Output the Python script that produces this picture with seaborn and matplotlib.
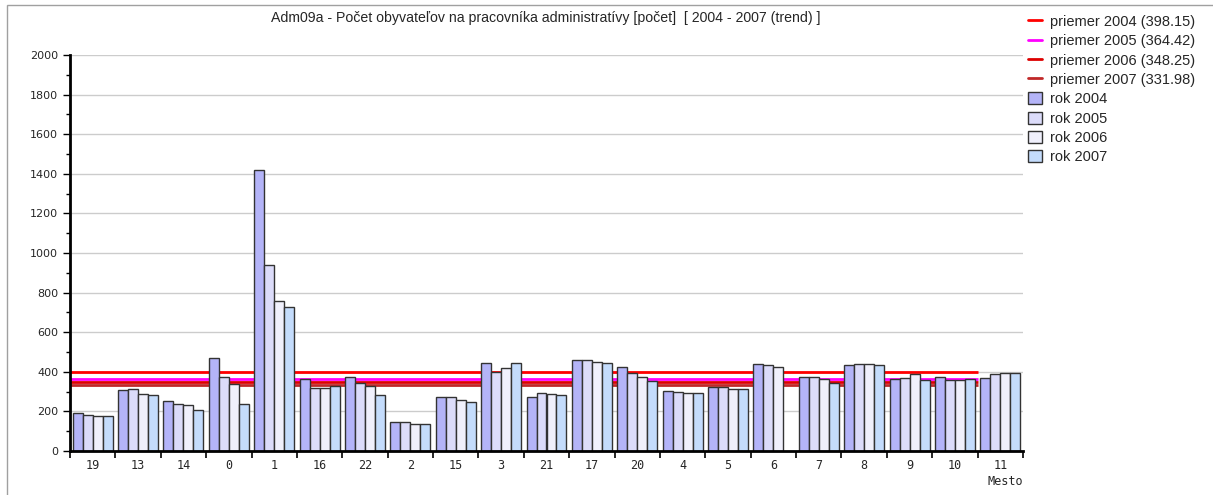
import numpy as np
import pandas as pd
import matplotlib
matplotlib.use("Agg")
import matplotlib.pyplot as plt
from matplotlib.lines import Line2D
from matplotlib.patches import Patch, Rectangle
import seaborn as sns

# Data
mesta = ["19", "13", "14", "0", "1", "16", "22", "2", "15", "3", "21",
         "17", "20", "4", "5", "6", "7", "8", "9", "10", "11"]
rok_2004 = [190, 307, 251, 470, 1418, 362, 375, 145, 274, 443, 274,
            461, 426, 305, 325, 438, 375, 433, 362, 375, 369]
rok_2005 = [182, 313, 239, 375, 938, 318, 345, 145, 274, 399, 295,
            461, 394, 300, 325, 433, 375, 438, 370, 357, 387]
rok_2006 = [175, 290, 232, 340, 758, 318, 327, 138, 256, 418, 288,
            449, 375, 295, 312, 426, 362, 438, 387, 357, 394]
rok_2007 = [175, 283, 207, 239, 727, 327, 283, 138, 249, 443, 281,
            443, 355, 295, 312, np.nan, 345, 433, 357, 362, 394]
roky = ["rok 2004", "rok 2005", "rok 2006", "rok 2007"]
priemery = [398.15, 364.42, 348.25, 331.98]
priemer_labels = ["priemer 2004 (398.15)", "priemer 2005 (364.42)",
                  "priemer 2006 (348.25)", "priemer 2007 (331.98)"]

bar_colors = ["#b4b4f8", "#dcdcfa", "#f0f0fc", "#c4dcfc"]
line_colors = ["#ff0000", "#ff00ff", "#dd0000", "#c02828"]

df = pd.DataFrame({
    "Mesto": mesta * 4,
    "rok": np.repeat(roky, len(mesta)),
    "hodnota": rok_2004 + rok_2005 + rok_2006 + rok_2007,
})

sns.set_style("white")
plt.rcParams["font.family"] = ["DejaVu Sans"]

W, H = 1213, 495
fig = plt.figure(figsize=(W / 100, H / 100), dpi=100)
ax = fig.add_axes([70 / W, 44 / H, (1023 - 70) / W, 396 / H])

sns.barplot(data=df, x="Mesto", y="hodnota", hue="rok", order=mesta,
            hue_order=roky, palette=bar_colors, width=0.88,
            edgecolor="#333333", linewidth=1, saturation=1,
            errorbar=None, legend=False, ax=ax, zorder=3)

# average lines sit behind the bars and stop before the last category
for val, col in zip(priemery, line_colors):
    ax.hlines(val, -0.5, len(mesta) - 1.5, colors=col, lw=2, zorder=2)

ax.set_xlim(-0.5, len(mesta) - 0.5)
ax.set_ylim(0, 2000)
ax.set_yticks(range(0, 2001, 200))
ax.set_yticks(range(100, 2000, 200), minor=True)
ax.yaxis.grid(True, color="#cccccc", lw=1, zorder=0)
ax.set_axisbelow(True)

ax.set_xticks(range(len(mesta)))
ax.set_xticklabels(mesta, family="DejaVu Sans Mono", fontsize=8.5)
ax.set_xticks(np.arange(-0.5, len(mesta), 1), minor=True)
ax.tick_params(axis="x", which="major", length=0, pad=6)
ax.tick_params(axis="x", which="minor", length=5, width=1.2, color="black", bottom=True)
ax.tick_params(axis="y", which="major", length=5, width=1, color="black", left=True, labelsize=8)
ax.tick_params(axis="y", which="minor", length=3, width=1, color="black", left=True)

for s in ["top", "right"]:
    ax.spines[s].set_visible(False)
for s in ["left", "bottom"]:
    ax.spines[s].set_color("black")
    ax.spines[s].set_linewidth(2)
    ax.spines[s].set_zorder(5)

ax.set_ylabel("")
ax.set_xlabel("Mesto", loc="right", family="DejaVu Sans Mono", fontsize=8.5, labelpad=2)

fig.text(546 / W, 1 - 18 / H,
         "Adm09a - Počet obyvateľov na pracovníka administratívy [počet]  [ 2004 - 2007 (trend) ]",
         ha="center", va="center", fontsize=10.2, family="Liberation Sans")

handles = [Line2D([0], [0], color=c, lw=2) for c in line_colors]
handles += [Patch(facecolor=c, edgecolor="#333333", lw=1) for c in bar_colors]
fig.legend(handles, priemer_labels + roky, loc="upper left",
           bbox_to_anchor=(1022 / W, 1 - 9 / H), frameon=False,
           prop={"family": "Liberation Sans", "size": 10.5},
           handlelength=1.0, handleheight=0.9,
           handletextpad=0.5, labelspacing=0.36, borderaxespad=0)

fig.add_artist(Rectangle((7 / W, -0.01), 1.0, 1 - 5 / H + 0.01,
                         transform=fig.transFigure, fill=False,
                         edgecolor="#a0a0a0", lw=1))

fig.savefig("out.png", dpi=100)
